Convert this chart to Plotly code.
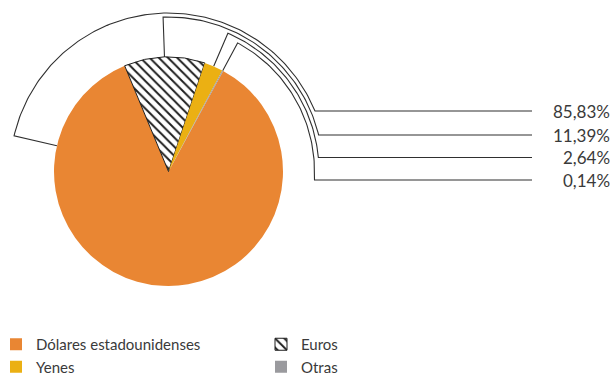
import math
import plotly.graph_objects as go

# ---- data ----
labels = ["Dólares estadounidenses", "Euros", "Yenes", "Otras"]
shares = [85.83, 11.39, 2.64, 0.14]

# ---- style / layout constants ----
W, H = 616, 377
CX, CY, R = 168.5, 171.5, 114.5
ROTATION = 28.5                      # start angle of the first slice (deg, clockwise from 12 o'clock)
slice_colors = ["#E98633", "#FFFFFF", "#EBB013", "#9A9A9E"]
pattern_shapes = ["", "\\", "", ""]
line_colors = ["rgba(0,0,0,0)", "#1e1e1e", "rgba(0,0,0,0)", "rgba(0,0,0,0)"]
line_widths = [0, 1, 0, 0]
TEXT_COLOR = "#3a3a3a"
FONT = "Lato, 'Open Sans', sans-serif"

callout_radius = [158.5, 154.5, 150.5, 146.0]
callout_label_y = [111, 135, 157.5, 180]
DOLAR_ANCHOR = -77.0                 # anchor angle used for the big slice's callout
LINE_END_X = 532
LABEL_X = 612

fig = go.Figure()

# ---- pie ----
fig.add_trace(go.Pie(
    labels=labels, values=shares, sort=False, direction="clockwise",
    rotation=ROTATION, textinfo="none", hoverinfo="label+percent",
    marker=dict(colors=slice_colors,
                line=dict(color=line_colors, width=line_widths),
                pattern=dict(shape=pattern_shapes, fgcolor="#1e1e1e",
                             bgcolor="#FFFFFF", size=6.5, solidity=0.3)),
    domain=dict(x=[(CX - R) / W, (CX + R) / W],
                y=[1 - (CY + R) / H, 1 - (CY - R) / H]),
    showlegend=True,
))

# ---- callouts computed from the slice angles ----
cum = 0.0
anchors = []
for i, s in enumerate(shares):
    start = ROTATION + cum * 3.6
    end = start + s * 3.6
    mid = (start + end) / 2
    mid = (mid + 180) % 360 - 180
    anchors.append(mid)
    cum += s
anchors[0] = DOLAR_ANCHOR


def pt(r, ang):
    a = math.radians(ang)
    return CX + r * math.sin(a), CY - r * math.cos(a)


for i, s in enumerate(shares):
    r = callout_radius[i]
    yl = callout_label_y[i]
    a0 = anchors[i]
    if yl < CY:
        a1 = math.degrees(math.acos((CY - yl) / r))
    else:
        a1 = 90.0
    xs, ys = [], []
    x, y = pt(R, a0); xs.append(x); ys.append(y)
    n = max(2, int(abs(a1 - a0)))
    for k in range(n + 1):
        x, y = pt(r, a0 + (a1 - a0) * k / n)
        xs.append(x); ys.append(y)
    if yl >= CY:
        xs.append(xs[-1]); ys.append(yl)
    xs.append(LINE_END_X); ys.append(yl)
    fig.add_trace(go.Scatter(x=xs, y=ys, mode="lines",
                             line=dict(color="#2f2f2f", width=1.1),
                             hoverinfo="skip", showlegend=False))
    txt = f"{s:.2f}".replace(".", ",") + "%"
    fig.add_annotation(x=LABEL_X, y=yl, xref="x", yref="y", text=txt,
                       showarrow=False, xanchor="right", yanchor="middle",
                       font=dict(size=17, color=TEXT_COLOR, family=FONT))

fig.update_xaxes(range=[0, W], visible=False, fixedrange=True)
fig.update_yaxes(range=[H, 0], visible=False, fixedrange=True)

fig.update_layout(
    width=W, height=H,
    margin=dict(l=0, r=0, t=0, b=0, autoexpand=False),
    paper_bgcolor="white", plot_bgcolor="white",
    font=dict(family=FONT, color=TEXT_COLOR),
    legend=dict(orientation="h", x=-4 / W, xanchor="left",
                y=-6 / H, yanchor="bottom",
                entrywidth=220, entrywidthmode="pixels",
                font=dict(size=15, color=TEXT_COLOR, family=FONT),
                bgcolor="rgba(0,0,0,0)", traceorder="normal"),
)

fig.write_html("out.html", config={"displayModeBar": False},
               post_script="document.body.style.margin='0';")
